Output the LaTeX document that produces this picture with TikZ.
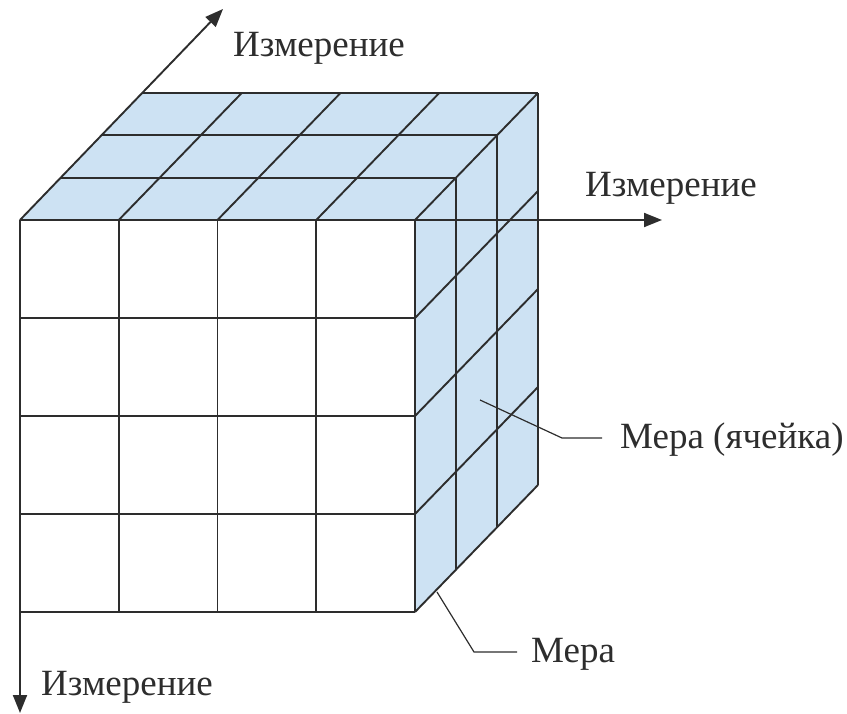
\documentclass[tikz,border=0pt]{standalone}
\usepackage{fontspec}
\setmainfont{Liberation Serif}
\usetikzlibrary{arrows.meta}
\definecolor{facefill}{RGB}{205,226,243}
\definecolor{edge}{RGB}{45,45,45}
\tikzset{
  grid line/.style={draw=edge, line width=1.9pt},
  axis/.style={draw=edge, line width=1.9pt, -{Triangle[length=18pt,width=14pt]}},
  leader/.style={draw=edge, line width=1.2pt},
  lbl/.style={anchor=base west, inner sep=0pt, text=edge, font=\fontsize{37}{42}\selectfont},
}
\begin{document}
\begin{tikzpicture}[x=1pt,y=-1pt]
\useasboundingbox (0,0) rectangle (847,714);
% key points
\coordinate (O) at (20,220);
\coordinate (FR) at (415,220);
\coordinate (FBL) at (20,612);
\coordinate (FBR) at (415,612);
\coordinate (BL) at (143,93);
\coordinate (BR) at (538,93);
\coordinate (BBR) at (538,485);
% faces
\fill[facefill] (O) -- (BL) -- (BR) -- (FR) -- cycle;
\fill[facefill] (FR) -- (BR) -- (BBR) -- (FBR) -- cycle;
% top face
\foreach \k in {0,1,2,3}{
  \draw[grid line] ({20+41*\k},{220-42.33*\k}) -- ({415+41*\k},{220-42.33*\k});
}
\foreach \i in {1,2,3,4}{
  \draw[grid line] ({20+98.75*\i},220) -- ({143+98.75*\i},93);
}
% right face
\foreach \k in {1,2,3}{
  \draw[grid line] ({415+41*\k},{220-42.33*\k}) -- ({415+41*\k},{612-42.33*\k});
}
\foreach \j in {1,2,3,4}{
  \draw[grid line] (415,{220+98*\j}) -- (538,{93+98*\j});
}
% front face
\foreach \j in {1,2,3,4}{
  \draw[grid line] (20,{220+98*\j}) -- (415,{220+98*\j});
}
\foreach \i in {1,2,3,4}{
  \draw[grid line] ({20+98.75*\i},220) -- ({20+98.75*\i},612);
}
% axes
\coordinate (A1) at (223,9);
\coordinate (A2) at (662,220);
\coordinate (A3) at (20,713);
\draw[axis] (O) -- (A1);
\draw[axis] (O) -- (A2);
\draw[axis] (O) -- (A3);
% labels
\node[lbl] (L1) at (233,57) {Измерение};
\node[lbl] (L2) at (585,197) {Измерение};
\node[lbl] (L3) at (41,695) {Измерение};
\node[lbl] (L4) at (620,448) {Мера (ячейка)};
\node[lbl] (L5) at (531,662) {Мера};
% leaders
\coordinate (P1) at (480,400);
\coordinate (P1b) at (562,438);
\coordinate (P1c) at (602,438);
\draw[leader] (P1) -- (P1b) -- (P1c);
\coordinate (P2) at (437,592);
\coordinate (P2b) at (474,652);
\coordinate (P2c) at (517,652);
\draw[leader] (P2) -- (P2b) -- (P2c);
\end{tikzpicture}
\end{document}
